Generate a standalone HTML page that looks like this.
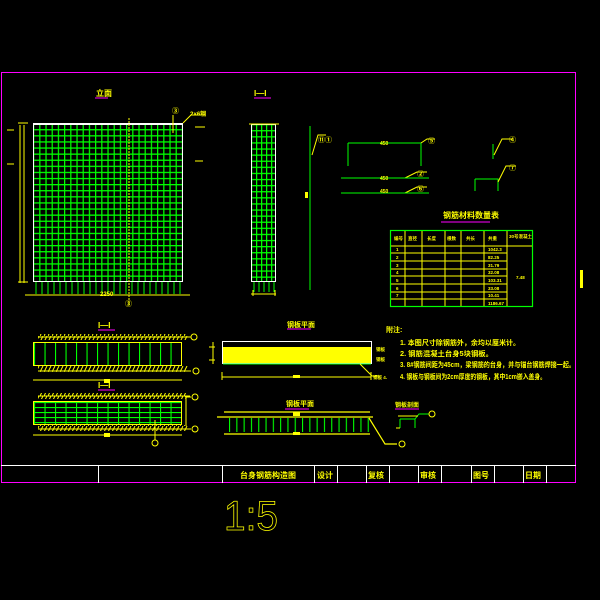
<!DOCTYPE html>
<html><head><meta charset="utf-8"><style>
html,body{margin:0;padding:0;background:#000;width:600px;height:600px;overflow:hidden}
text{font-family:"Liberation Sans","Noto Sans CJK SC",sans-serif;fill:#ff0;font-weight:bold}
</style></head><body>
<svg width="600" height="600" viewBox="0 0 600 600" xmlns="http://www.w3.org/2000/svg">
<defs>
<pattern id="g" x="33" y="123" width="6.2" height="6.1" patternUnits="userSpaceOnUse">
<path d="M0.6 0V6.1M0 0.6H6.2" stroke="#0f0" stroke-width="1.3"/>
</pattern>
<pattern id="g2" x="251" y="124" width="5" height="6.1" patternUnits="userSpaceOnUse">
<path d="M0.6 0V6.1M0 0.6H5" stroke="#0f0" stroke-width="1.3"/>
</pattern>
<pattern id="v" x="34" width="10.5" height="20" patternUnits="userSpaceOnUse">
<path d="M0.5 0V20" stroke="#0f0" stroke-width="1.2"/>
</pattern>
<pattern id="v2" x="229" width="7.3" height="40" patternUnits="userSpaceOnUse">
<path d="M0.5 0V40" stroke="#0f0" stroke-width="1.2"/>
</pattern>
<pattern id="gg" x="34" y="402" width="10.5" height="5" patternUnits="userSpaceOnUse">
<path d="M0.5 0V5M0 0.5H10.5" stroke="#0f0" stroke-width="1.2"/>
</pattern>
<pattern id="h" x="0" y="0" width="4" height="6" patternUnits="userSpaceOnUse">
<path d="M0 6L3 0" stroke="#ff0"/>
</pattern>
</defs>
<rect x="1.5" y="72.5" width="574" height="410" fill="none" stroke="#f0f"/>
<!-- main elevation -->
<text x="96" y="96" font-size="8">立面</text>
<line x1="95" y1="98" x2="108" y2="98" stroke="#f0f"/>
<rect x="33" y="123" width="150" height="159" fill="url(#g)"/>
<rect x="33.5" y="123.5" width="149" height="158" fill="none" stroke="#fff"/>
<line x1="33" y1="124" x2="183" y2="124" stroke="#fff" stroke-width="2"/>
<line x1="129" y1="118" x2="129" y2="305" stroke="#ff0" stroke-dasharray="2,1"/>
<path d="M36 282v12M42 282v12M48 282v12M54 282v12M60 282v12M66 282v12M72 282v12M78 282v12M84 282v12M90 282v12M96 282v12M102 282v12M108 282v12M114 282v12M120 282v12M126 282v12M132 282v12M138 282v12M144 282v12M150 282v12M156 282v12M162 282v12M168 282v12M174 282v12M180 282v12" stroke="#0f0"/>
<path d="M25 295H190M20 125V283M24 125V283M18 123h10M18 282h10" stroke="#ff0"/>
<text x="172" y="113" font-size="7">③</text>
<text x="190" y="116" font-size="6">2×6钢</text>
<path d="M183 123l8 -8h14M173 115v18" stroke="#ff0"/>
<text x="100" y="296" font-size="6">2250</text>
<path d="M7 130h7M7 164h7M195 127h10M195 161h8" stroke="#ff0"/>
<text x="125" y="306" font-size="7">③</text>
<!-- I-I section -->
<text x="254" y="96" font-size="8">I—I</text>
<line x1="254" y1="98" x2="271" y2="98" stroke="#f0f"/>
<rect x="251" y="124" width="25" height="158" fill="url(#g2)"/>
<rect x="251.5" y="124.5" width="24" height="157" fill="none" stroke="#fff"/>
<path d="M249 124h30M251 294h25M253 290v6M275 290v6" stroke="#ff0"/>
<path d="M254 282v10M259 282v10M264 282v10M269 282v10M274 282v10" stroke="#0f0"/>
<!-- bar shapes -->
<line x1="310" y1="126" x2="310" y2="290" stroke="#0f0"/>
<rect x="305" y="192" width="3" height="6" fill="#ff0"/>
<path d="M312 155l6 -20h8" stroke="#ff0"/>
<text x="318" y="142" font-size="7">⑪①</text>
<path d="M348 143V166M348 143H421V166" stroke="#0f0" fill="none"/>
<text x="380" y="145" font-size="5">450</text>
<path d="M421 143l6 -4h8M405 178l12 -6h10M405 193l12 -6h10" stroke="#ff0"/>
<text x="428" y="143" font-size="7">⑤</text>
<path d="M341 178H429M341 193H429" stroke="#0f0"/>
<text x="380" y="180" font-size="5">450</text>
<text x="380" y="193" font-size="5">450</text>
<text x="417" y="176" font-size="7">②</text>
<text x="417" y="191" font-size="7">⑥</text>
<path d="M493 144V159M475 179V191M475 179H498V191" stroke="#0f0" fill="none"/>
<path d="M494 155l8 -16h10M498 182l8 -16h10" stroke="#ff0"/>
<text x="509" y="142" font-size="7">④</text>
<text x="509" y="170" font-size="7">⑦</text>
<!-- table -->
<text x="443" y="218" font-size="8">钢筋材料数量表</text>
<line x1="441" y1="222" x2="490" y2="222" stroke="#f0f"/>
<g stroke="#ff0">
<path d="M405 230V307M422 230V307M445 230V307M461 230V307M484 230V307M507 230V307"/>
<path d="M390 246H533M390 253H507M390 261H507M390 269H507M390 276H507M390 284H507M390 292H507M390 299H507"/>
</g>
<rect x="390.5" y="230.5" width="142" height="76" fill="none" stroke="#0f0" stroke-width="1.2"/>
<g font-size="4.5">
<text x="394" y="240">编号</text><text x="408" y="240">直径</text><text x="427" y="240">长度</text><text x="447" y="240">根数</text><text x="466" y="240">共长</text><text x="488" y="240">共重</text><text x="509" y="238">30号混凝土</text>
<text x="396" y="251">1</text><text x="396" y="259">2</text><text x="396" y="267">3</text><text x="396" y="274">4</text><text x="396" y="282">5</text><text x="396" y="290">6</text><text x="396" y="297">7</text>
<text x="488" y="251">1042.3</text><text x="488" y="259">82.25</text><text x="488" y="267">31.79</text><text x="488" y="274">32.08</text><text x="488" y="282">103.31</text><text x="488" y="290">33.08</text><text x="488" y="297">10.41</text><text x="488" y="305">1186.67</text>
<text x="516" y="279">7.48</text>
</g>
<rect x="580" y="270" width="3" height="18" fill="#ff0"/>
<!-- lower left sections -->
<text x="98" y="328" font-size="8">I—I</text>
<line x1="98" y1="330" x2="115" y2="330" stroke="#f0f"/>
<rect x="38" y="334" width="150" height="6" fill="url(#h)"/>
<rect x="38" y="366" width="150" height="6" fill="url(#h)"/>
<rect x="33" y="342" width="149" height="24" fill="url(#v)"/>
<rect x="33.5" y="342.5" width="148" height="23" fill="none" stroke="#ff0"/>
<path d="M38 337H190M38 371H190M33 380H182M185 337h6M185 371h6" stroke="#ff0"/>
<circle cx="194" cy="337" r="3" fill="none" stroke="#ff0"/>
<circle cx="196" cy="371" r="3" fill="none" stroke="#ff0"/>
<rect x="104" y="379" width="6" height="4" fill="#ff0"/>
<text x="98" y="388" font-size="8">I—I</text>
<line x1="98" y1="390" x2="115" y2="390" stroke="#f0f"/>
<rect x="38" y="393" width="150" height="6" fill="url(#h)"/>
<rect x="38" y="425" width="150" height="6" fill="url(#h)"/>
<rect x="33" y="401" width="149" height="24" fill="url(#gg)"/>
<rect x="33.5" y="401.5" width="148" height="23" fill="none" stroke="#ff0"/>
<path d="M38 396H190M38 429H190M33 435H182M185 397h6M185 429h6M186 398V426M155 420V440" stroke="#ff0"/>
<circle cx="195" cy="397" r="3" fill="none" stroke="#ff0"/>
<circle cx="195" cy="429" r="3" fill="none" stroke="#ff0"/>
<circle cx="155" cy="443" r="3" fill="none" stroke="#ff0"/>
<rect x="104" y="433" width="6" height="4" fill="#ff0"/>
<!-- steel plate elevation -->
<text x="287" y="327" font-size="7">钢板平面</text>
<line x1="287" y1="329" x2="311" y2="329" stroke="#f0f"/>
<rect x="222.5" y="341.5" width="149" height="22" fill="#000" stroke="#fff"/>
<rect x="223" y="347" width="148" height="16" fill="#ff0"/>
<line x1="223" y1="364" x2="371" y2="364" stroke="#0f0"/>
<path d="M222 377H371M222 372v8M371 372v8M213 342v22M209 347h6M209 360h6M360 364l12 12h8" stroke="#ff0"/>
<rect x="293" y="375" width="7" height="3" fill="#ff0"/>
<text x="376" y="351" font-size="4.5">钢板</text><text x="376" y="361" font-size="4.5">钢板</text>
<text x="373" y="379" font-size="4.5">钢板 4.</text>
<!-- steel plan -->
<text x="286" y="406" font-size="7">钢板平面</text>
<line x1="285" y1="409" x2="309" y2="409" stroke="#f0f"/>
<rect x="229" y="418" width="143" height="14" fill="url(#v2)"/>
<path d="M217 417H373M224 434H370M224 412H370M369 418l16 26h12" stroke="#ff0" stroke-width="1.2"/>
<rect x="293" y="412" width="7" height="4" fill="#ff0"/>
<rect x="293" y="432" width="7" height="3" fill="#ff0"/>
<circle cx="402" cy="444" r="3" fill="none" stroke="#ff0"/>
<text x="395" y="407" font-size="6">钢板剖面</text>
<line x1="395" y1="409" x2="419" y2="409" stroke="#f0f"/>
<path d="M400 419V428M415 419V428M400 419H415M415 419l4 -5h10" stroke="#0f0"/>
<path d="M398 416h20M396 428h4" stroke="#ff0"/>
<circle cx="432" cy="414" r="3" fill="none" stroke="#ff0"/>
<!-- notes -->
<g font-size="7">
<text x="386" y="332">附注:</text>
<text x="400" y="345" textLength="120" lengthAdjust="spacingAndGlyphs">1. 本图尺寸除钢筋外，余均以厘米计。</text>
<text x="400" y="356" textLength="93" lengthAdjust="spacingAndGlyphs">2. 钢筋混凝土台身5块钢板。</text>
<text x="400" y="367" textLength="175" lengthAdjust="spacingAndGlyphs">3. 8#钢筋间距为45cm，梁钢筋的台身，并与锚台钢筋焊接一起。</text>
<text x="400" y="379" textLength="146" lengthAdjust="spacingAndGlyphs">4. 钢板与钢板间为2cm厚度的钢板，其中1cm嵌入盖身。</text>
</g>
<!-- title block -->
<g stroke="#fff">
<line x1="1" y1="465.5" x2="576" y2="465.5"/>
<path d="M98.5 465V483M222.5 465V483M314.5 465V483M337.5 465V483M366.5 465V483M389.5 465V483M418.5 465V483M441.5 465V483M471.5 465V483M494.5 465V483M523.5 465V483M546.5 465V483"/>
</g>
<g font-size="8">
<text x="240" y="478">台身钢筋构造图</text>
<text x="317" y="478">设计</text>
<text x="368" y="478">复核</text>
<text x="420" y="478">审核</text>
<text x="473" y="478">图号</text>
<text x="525" y="478">日期</text>
</g>
<text x="224" y="530" font-size="42" textLength="54" lengthAdjust="spacingAndGlyphs" style="font-weight:normal;fill:none;stroke:#ff0;stroke-width:0.8">1:5</text>
</svg>
</body></html>
